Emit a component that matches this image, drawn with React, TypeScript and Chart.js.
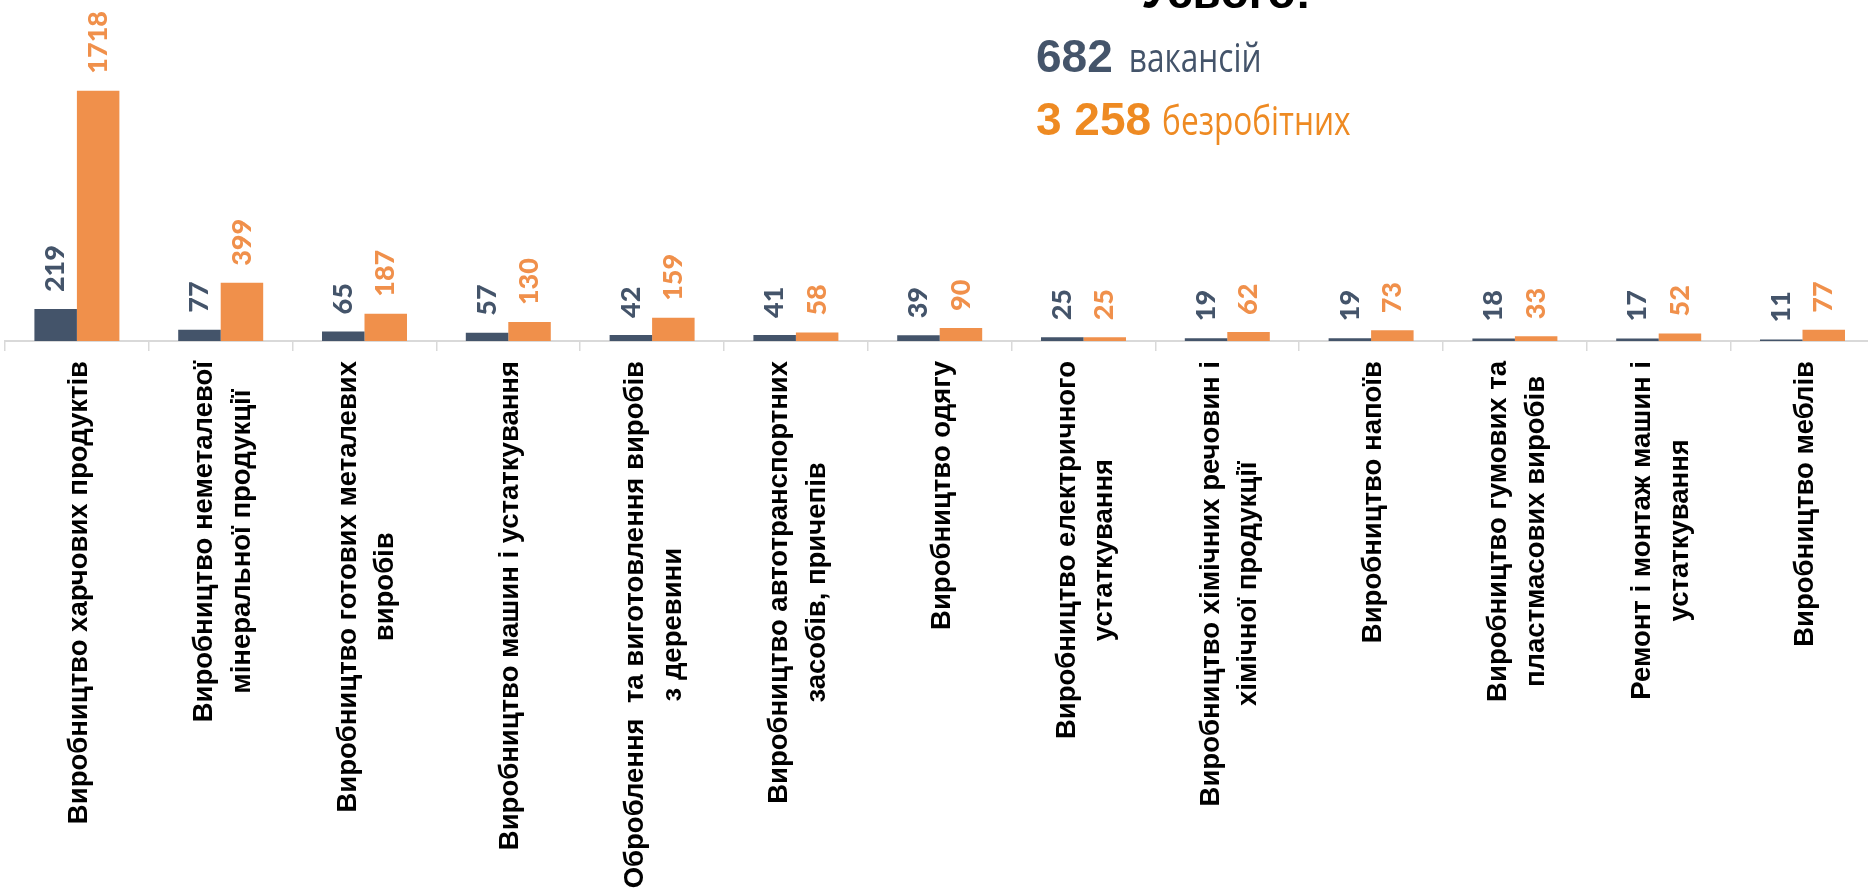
import React, { useEffect, useRef } from "react";
import { Chart, registerables } from "chart.js";

Chart.register(...registerables);

// ---- data ----
const categories: (string | string[])[] = [
  "Виробництво харчових продуктів",
  ["Виробництво неметалевої", "мінеральної продукції"],
  ["Виробництво готових металевих", "виробів"],
  "Виробництво машин і устаткування",
  ["Оброблення  та виготовлення виробів", "з деревини"],
  ["Виробництво автотранспортних", "засобів, причепів"],
  "Виробництво одягу",
  ["Виробництво електричного", "устаткування"],
  ["Виробництво хімічних речовин і", "хімічної продукції"],
  "Виробництво напоїв",
  ["Виробництво гумових та", "пластмасових виробів"],
  ["Ремонт і монтаж машин і", "устаткування"],
  "Виробництво меблів",
];
const vacancies = [219, 77, 65, 57, 42, 41, 39, 25, 19, 19, 18, 17, 11];
const unemployed = [1718, 399, 187, 130, 159, 58, 90, 25, 62, 73, 33, 52, 77];
const seriesNames = ["вакансій", "безробітних"];
const totalTitle = "Усього:";
const totalVacancies = "682";
const totalUnemployed = "3 258";
const yMin = 0;
const yMax = 2340;

// ---- styles ----
const DARK = "#44546A";
const ORANGE = "#F0904B";
const ORANGE_TEXT = "#EE8A22";
const AXIS_GREY = "#D9D9D9";
const CANVAS_W = 1880;
const CANVAS_H = 892;

const valueLabelsPlugin = {
  id: "valueLabels",
  afterDatasetsDraw(chart: any) {
    const ctx = chart.ctx;
    chart.data.datasets.forEach((ds: any, di: number) => {
      const meta = chart.getDatasetMeta(di);
      meta.data.forEach((bar: any, i: number) => {
        const v = ds.data[i];
        ctx.save();
        ctx.translate(bar.x, bar.y - 17);
        ctx.rotate(-Math.PI / 2);
        ctx.font = "900 27px Lato";
        ctx.fillStyle = ds.labelColor;
        ctx.textAlign = "left";
        ctx.textBaseline = "middle";
        ctx.fillText(String(v), 0, 0);
        ctx.restore();
      });
    });
  },
};

const categoryLabelsPlugin = {
  id: "categoryLabels",
  afterDraw(chart: any) {
    const ctx = chart.ctx;
    const xScale = chart.scales.x;
    const top = xScale.top + 10 + 10;
    const lineGap = 37.6;
    ctx.save();
    ctx.font = "bold 27.5px 'Liberation Sans', Arial, sans-serif";
    ctx.fillStyle = "#000000";
    categories.forEach((lab, i) => {
      const lines = Array.isArray(lab) ? lab : [lab];
      const maxW = Math.max(...lines.map((l) => ctx.measureText(l).width));
      const cy = top + maxW / 2;
      const cx = xScale.getPixelForTick(i) + 2.5;
      lines.forEach((line, j) => {
        const x = cx + (j - (lines.length - 1) / 2) * lineGap;
        ctx.save();
        ctx.translate(x, cy);
        ctx.rotate(-Math.PI / 2);
        ctx.textAlign = "center";
        ctx.textBaseline = "middle";
        ctx.fillText(line, 0, 0);
        ctx.restore();
      });
    });
    ctx.restore();
  },
};

const totalsPlugin = {
  id: "totals",
  afterDraw(chart: any) {
    const ctx = chart.ctx;
    ctx.save();
    // title (cut off at top like in the reference)
    ctx.font = "bold 46px 'Liberation Sans', Arial, sans-serif";
    ctx.fillStyle = "#000000";
    ctx.textAlign = "center";
    ctx.textBaseline = "alphabetic";
    ctx.fillText(totalTitle, 1226, 8);

    const rows = [
      { num: totalVacancies, word: seriesNames[0], color: DARK, y: 71.5, gap: 16 },
      { num: totalUnemployed, word: seriesNames[1], color: ORANGE_TEXT, y: 135, gap: 11 },
    ];
    rows.forEach((r) => {
      ctx.textAlign = "left";
      ctx.font = "bold 46px 'Liberation Sans', Arial, sans-serif";
      ctx.fillStyle = r.color;
      ctx.fillText(r.num, 1036, r.y);
      const w = ctx.measureText(r.num).width;
      ctx.save();
      ctx.translate(1036 + w + r.gap, r.y);
      ctx.scale(0.79, 1);
      ctx.font = "40px 'Open Sans', sans-serif";
      ctx.fillStyle = r.color;
      ctx.fillText(r.word, 0, 0);
      ctx.restore();
    });
    ctx.restore();
  },
};

export default function App() {
  const canvasRef = useRef<HTMLCanvasElement | null>(null);

  useEffect(() => {
    if (!canvasRef.current) return;
    const chart = new Chart(canvasRef.current, {
      type: "bar",
      data: {
        labels: categories,
        datasets: [
          {
            label: seriesNames[0],
            data: vacancies,
            backgroundColor: DARK,
            labelColor: DARK,
            categoryPercentage: 0.591,
            barPercentage: 1,
          } as any,
          {
            label: seriesNames[1],
            data: unemployed,
            backgroundColor: ORANGE,
            labelColor: ORANGE,
            categoryPercentage: 0.591,
            barPercentage: 1,
          } as any,
        ],
      },
      options: {
        responsive: false,
        animation: false,
        layout: { padding: { left: 5, right: 5.6, top: 0, bottom: 541 } },
        plugins: {
          legend: { display: false },
          tooltip: { enabled: false },
          title: { display: false },
        },
        scales: {
          x: {
            grid: {
              display: true,
              drawOnChartArea: false,
              drawTicks: true,
              tickLength: 10,
              color: AXIS_GREY,
              lineWidth: 1.5,
              offset: true,
            },
            border: { display: true, color: AXIS_GREY, width: 2 },
            ticks: { display: false },
          },
          y: {
            display: false,
            min: yMin,
            max: yMax,
          },
        },
      },
      plugins: [valueLabelsPlugin, categoryLabelsPlugin, totalsPlugin],
    });
    return () => chart.destroy();
  }, []);

  return (
    <div
      style={{
        position: "fixed",
        left: 0,
        top: 0,
        width: 1868,
        height: 892,
        overflow: "hidden",
        background: "#ffffff",
      }}
    >
      <canvas
        ref={canvasRef}
        width={CANVAS_W}
        height={CANVAS_H}
        style={{ display: "block", width: CANVAS_W, height: CANVAS_H }}
      />
    </div>
  );
}
